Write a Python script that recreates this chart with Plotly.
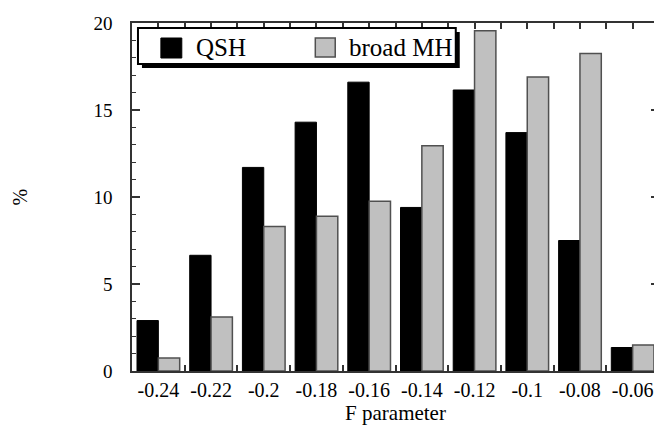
import plotly.graph_objects as go

categories = ["-0.24", "-0.22", "-0.2", "-0.18", "-0.16", "-0.14", "-0.12", "-0.1", "-0.08", "-0.06"]
qsh = [2.9, 6.65, 11.7, 14.3, 16.6, 9.4, 16.15, 13.7, 7.5, 1.35]
broad_mh = [0.75, 3.1, 8.3, 8.9, 9.75, 12.95, 19.55, 16.9, 18.25, 1.5]
series_names = ["QSH", "broad MH"]

OFF = 8  # default page body margin
W, H = 662 - OFF, 430 - OFF
# plot-area edges in page pixels
L, R, T, B = 132, 661, 23, 371
FONT = "Liberation Serif, Times New Roman, serif"


def px(x):
    return (x - L) / (R - L)


def py(y):
    return (B - y) / (B - T)


fig = go.Figure()
fig.add_trace(go.Bar(x=categories, y=qsh, name=series_names[0],
                     marker=dict(color="black", line=dict(color="black", width=1)),
                     showlegend=False))
fig.add_trace(go.Bar(x=categories, y=broad_mh, name=series_names[1],
                     marker=dict(color="#c0c0c0", line=dict(color="#505050", width=1.5)),
                     showlegend=False))

# top-axis ticks (centres and boundaries)
fig.add_trace(go.Scatter(x=[None], y=[None], xaxis="x2", showlegend=False, hoverinfo="skip"))

axis_line = dict(showline=True, linecolor="#333", linewidth=1.5)

fig.update_layout(
    width=W, height=H,
    margin=dict(l=L - OFF, r=(W + OFF) - R, t=T - OFF, b=(H + OFF) - B),
    paper_bgcolor="white", plot_bgcolor="white",
    barmode="group", bargap=0.19, bargroupgap=0,
    font=dict(family=FONT, color="black"),
    xaxis=dict(type="category", categoryarray=categories, tickson="boundaries",
               ticks="inside", ticklen=6, tickcolor="#333", tickwidth=1.5,
               mirror=False, showgrid=False, zeroline=False,
               tickfont=dict(size=20, family=FONT), **axis_line,
               title=dict(text="F parameter", font=dict(size=21, family=FONT), standoff=4)),
    xaxis2=dict(overlaying="x", side="top", range=[-0.25, -0.05], tick0=-0.25, dtick=0.01,
                ticks="inside", ticklen=6, tickcolor="#333", tickwidth=1.5,
                showticklabels=False, showgrid=False, zeroline=False, **axis_line),
    yaxis=dict(range=[0, 20], dtick=5, ticks="inside", ticklen=8, tickcolor="#333", tickwidth=1.5,
               mirror="ticks", showgrid=False, zeroline=False,
               minor=dict(dtick=1, ticks="inside", ticklen=4, tickcolor="#333", tickwidth=1.2),
               tickfont=dict(size=19, family=FONT), ticklabelstandoff=14, **axis_line),
)

# y-axis title
fig.add_annotation(text="%", xref="paper", yref="paper", x=px(20), y=0.5,
                   showarrow=False, textangle=-90, font=dict(size=20, family=FONT),
                   xanchor="center", yanchor="middle")

# legend box with shadow
bx0, bx1, by0, by1 = 138, 457, 28, 64
fig.add_shape(type="rect", xref="paper", yref="paper",
              x0=px(bx0 + 4), x1=px(bx1 + 4), y0=py(by1 + 4), y1=py(by0 + 4),
              fillcolor="black", line=dict(width=0), layer="above")
fig.add_shape(type="rect", xref="paper", yref="paper",
              x0=px(bx0), x1=px(bx1), y0=py(by1), y1=py(by0),
              fillcolor="white", line=dict(color="black", width=2), layer="above")
fig.add_shape(type="rect", xref="paper", yref="paper",
              x0=px(161), x1=px(182), y0=py(58), y1=py(38),
              fillcolor="black", line=dict(color="black", width=1), layer="above")
fig.add_shape(type="rect", xref="paper", yref="paper",
              x0=px(316), x1=px(336), y0=py(57), y1=py(38),
              fillcolor="#c0c0c0", line=dict(color="#505050", width=1.5), layer="above")
fig.add_annotation(text=series_names[0], xref="paper", yref="paper", x=px(194), y=py(47),
                   xanchor="left", yanchor="middle", showarrow=False,
                   font=dict(size=25, family=FONT))
fig.add_annotation(text=series_names[1], xref="paper", yref="paper", x=px(348), y=py(47),
                   xanchor="left", yanchor="middle", showarrow=False,
                   font=dict(size=25, family=FONT))

fig.write_html("out.html")
